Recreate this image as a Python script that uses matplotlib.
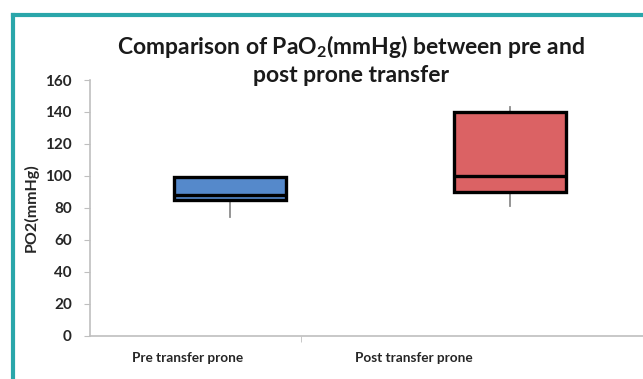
import matplotlib
matplotlib.use('Agg')
import matplotlib.pyplot as plt
from matplotlib.lines import Line2D

plt.rcParams['font.family'] = ['Lato', 'DejaVu Sans']
plt.rcParams['font.weight'] = 'bold'
plt.rcParams['mathtext.fontset'] = 'custom'
plt.rcParams['mathtext.rm'] = 'Lato:bold'
plt.rcParams['mathtext.default'] = 'rm'

# data
groups = ['Pre transfer prone', 'Post transfer prone']
whisker_low = [74, 81]
q1 = [85, 90]
median = [88, 100]
q3 = [99, 140]
whisker_high = [99, 143]
box_colors = ['#5589CB', '#DB6264']
yticks = [0, 20, 40, 60, 80, 100, 120, 140, 160]

fig = plt.figure(figsize=(6.43, 3.79), dpi=100)
W, H = 643, 379
ax = fig.add_axes([90 / W, (H - 335.7) / H, (660 - 90) / W, (335.7 - 80) / H])

stats = []
for i in range(len(groups)):
    stats.append({'whislo': whisker_low[i], 'q1': q1[i], 'med': median[i],
                  'q3': q3[i], 'whishi': whisker_high[i], 'fliers': []})

bp = ax.bxp(stats, positions=[1, 2], widths=0.4, patch_artist=True,
            showcaps=False, showfliers=False,
            boxprops=dict(edgecolor='black', linewidth=2.4),
            medianprops=dict(color='black', linewidth=2.4),
            whiskerprops=dict(color='#8C8C8C', linewidth=1.3))
for patch, c in zip(bp['boxes'], box_colors):
    patch.set_facecolor(c)
for w in bp['whiskers']:
    w.set_zorder(1)

ax.set_xlim(0.5, 0.5 + (660 - 90) / 280)
ax.set_ylim(0, 160)
ax.set_yticks(yticks)
ax.set_yticklabels([str(t) for t in yticks], fontsize=11, fontweight='bold', color='#262626')
ax.set_xticks([0.847, 1.658])
ax.set_xticklabels(groups, fontsize=9.8, fontweight='bold', color='#262626')
ax.tick_params(axis='x', length=0, pad=12)
ax.set_xticks([1.255], minor=True)
ax.tick_params(axis='x', which='minor', length=4, color='#BFBFBF', direction='out')
ax.tick_params(axis='y', length=4, color='#BFBFBF', pad=9)
for s in ['top', 'right']:
    ax.spines[s].set_visible(False)
for s in ['left', 'bottom']:
    ax.spines[s].set_color('#BFBFBF')
    ax.spines[s].set_linewidth(1.2)

ax.set_ylabel('PO2(mmHg)', fontsize=11.5, fontweight='bold', color='#262626', labelpad=5)

fig.text(351 / W, 1 - 46 / H, r'Comparison of PaO$_2$(mmHg) between pre and',
         ha='center', va='center', fontsize=16.5, fontweight='bold', color='#1a1a1a')
fig.text(351 / W, 1 - 76 / H, 'post prone transfer',
         ha='center', va='center', fontsize=16.5, fontweight='bold', color='#1a1a1a')

# teal frame around the chart
teal = '#2AA6AA'
fig.add_artist(Line2D([13 / W, 13 / W], [0, 1 - 15 / H], color=teal, linewidth=3))
fig.add_artist(Line2D([13 / W, 1], [1 - 15 / H, 1 - 15 / H], color=teal, linewidth=3))

fig.savefig('out.png', dpi=100)
